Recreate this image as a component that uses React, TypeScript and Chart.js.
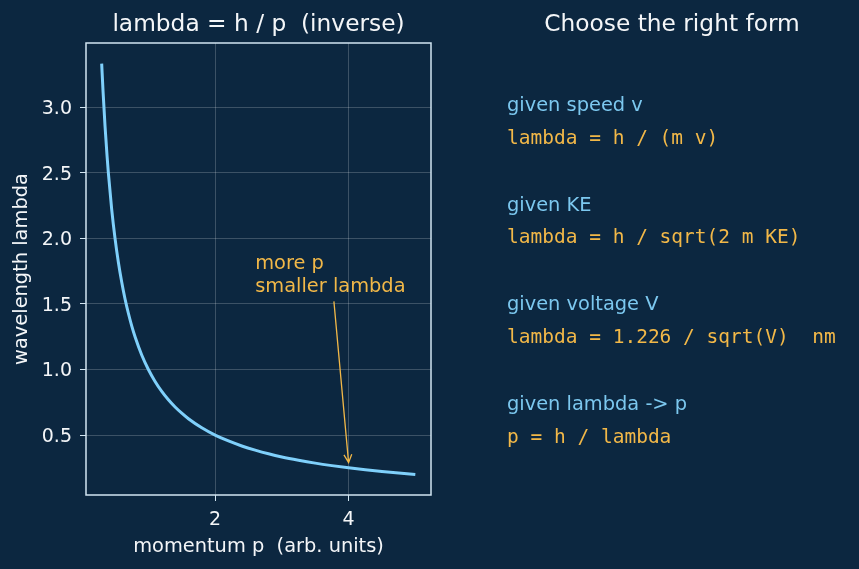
import React, { useEffect, useRef } from 'react';
import { Chart, registerables } from 'chart.js';

Chart.register(...registerables);

// ---- data ----
const momentum = [0.3, 0.32, 0.35, 0.38, 0.4, 0.45, 0.5, 0.55, 0.6, 0.65, 0.7, 0.75, 0.8, 0.9, 1.0, 1.1, 1.2, 1.3, 1.4, 1.5, 1.6, 1.8, 2.0, 2.2, 2.4, 2.6, 2.8, 3.0, 3.25, 3.5, 3.75, 4.0, 4.25, 4.5, 4.75, 5.0];
const wavelength = [3.333, 3.125, 2.857, 2.632, 2.5, 2.222, 2.0, 1.818, 1.667, 1.538, 1.429, 1.333, 1.25, 1.111, 1.0, 0.909, 0.833, 0.769, 0.714, 0.667, 0.625, 0.556, 0.5, 0.455, 0.417, 0.385, 0.357, 0.333, 0.308, 0.286, 0.267, 0.25, 0.235, 0.222, 0.211, 0.2];
const xTicks = [2, 4];
const yTicks = [0.5, 1.0, 1.5, 2.0, 2.5, 3.0];
const leftTitle = 'lambda = h / p  (inverse)';
const xLabel = 'momentum p  (arb. units)';
const yLabel = 'wavelength lambda';
const noteLines = ['more p', 'smaller lambda'];
const noteAnchor = [2.6, 1.59];
const arrowFrom = [3.78, 1.52];
const arrowTo = [4.0, 0.29];
const panelTitle = 'Choose the right form';
const panelHeads = ['given speed v', 'given KE', 'given voltage V', 'given lambda -> p'];
const panelForms = ['lambda = h / (m v)', 'lambda = h / sqrt(2 m KE)', 'lambda = 1.226 / sqrt(V)  nm', 'p = h / lambda'];

const BG = '#0c2740';
const CURVE = '#7fd0fb';
const ORANGE = '#f2b848';
const BLUE = '#7cc8ef';
const SPINE = '#d2e6f2';
const TEXT = '#f4f6f8';
const SANS = '"DejaVu Sans", sans-serif';
const MONO = '"DejaVu Sans Mono", monospace';

const decor = {
  id: 'decor',
  beforeDraw(chart: any) {
    const ctx = chart.ctx;
    ctx.save();
    ctx.fillStyle = BG;
    ctx.fillRect(0, 0, chart.width, chart.height);
    ctx.restore();
  },
  afterDraw(chart: any) {
    const ctx = chart.ctx;
    const a = chart.chartArea;
    const xs = chart.scales.x;
    const ys = chart.scales.y;
    ctx.save();
    // frame
    ctx.strokeStyle = SPINE;
    ctx.lineWidth = 1.5;
    ctx.strokeRect(a.left, a.top, a.right - a.left, a.bottom - a.top);

    // titles
    ctx.fillStyle = TEXT;
    ctx.font = `23.3px ${SANS}`;
    ctx.textAlign = 'center';
    ctx.textBaseline = 'middle';
    ctx.fillText(leftTitle, (a.left + a.right) / 2, 25);
    ctx.fillText(panelTitle, 672, 25);

    // axis labels
    ctx.font = `19.4px ${SANS}`;
    ctx.fillText(xLabel, (a.left + a.right) / 2, 547);
    ctx.save();
    ctx.translate(22, (a.top + a.bottom) / 2);
    ctx.rotate(-Math.PI / 2);
    ctx.fillText(yLabel, 0, 0);
    ctx.restore();

    // annotation
    ctx.fillStyle = ORANGE;
    ctx.textAlign = 'left';
    ctx.textBaseline = 'alphabetic';
    const tx = xs.getPixelForValue(noteAnchor[0]);
    const ty = ys.getPixelForValue(noteAnchor[1]);
    for (let i = 0; i < noteLines.length; i++) {
      ctx.fillText(noteLines[i], tx, ty - (noteLines.length - 1 - i) * 23);
    }
    const x1 = xs.getPixelForValue(arrowFrom[0]);
    const y1 = ys.getPixelForValue(arrowFrom[1]);
    const x2 = xs.getPixelForValue(arrowTo[0]);
    const y2 = ys.getPixelForValue(arrowTo[1]);
    ctx.strokeStyle = ORANGE;
    ctx.lineWidth = 1.3;
    ctx.beginPath();
    ctx.moveTo(x1, y1);
    ctx.lineTo(x2, y2);
    const ang = Math.atan2(y2 - y1, x2 - x1);
    const hl = 9;
    const hw = 0.45;
    ctx.moveTo(x2 - hl * Math.cos(ang - hw), y2 - hl * Math.sin(ang - hw));
    ctx.lineTo(x2, y2);
    ctx.lineTo(x2 - hl * Math.cos(ang + hw), y2 - hl * Math.sin(ang + hw));
    ctx.stroke();

    // right panel
    ctx.textBaseline = 'middle';
    for (let i = 0; i < panelHeads.length; i++) {
      const y0 = 106 + i * 99.7;
      ctx.fillStyle = BLUE;
      ctx.font = `19.4px ${SANS}`;
      ctx.fillText(panelHeads[i], 507, y0);
      ctx.fillStyle = ORANGE;
      ctx.font = `19.5px ${MONO}`;
      ctx.fillText(panelForms[i], 507, y0 + 32.5);
    }
    ctx.restore();
  },
};

export default function App() {
  const ref = useRef<HTMLCanvasElement>(null);
  useEffect(() => {
    document.body.style.margin = '0';
    document.body.style.background = BG;
    const chart = new Chart(ref.current as HTMLCanvasElement, {
      type: 'line',
      data: {
        datasets: [
          {
            data: momentum.map((p, i) => ({ x: p, y: wavelength[i] })),
            borderColor: CURVE,
            borderWidth: 3,
            pointRadius: 0,
            cubicInterpolationMode: 'monotone',
            fill: false,
          },
        ],
      },
      options: {
        animation: false,
        responsive: false,
        devicePixelRatio: 1,
        layout: { padding: { top: 43, right: 428, left: 0, bottom: 0 } },
        plugins: { legend: { display: false }, tooltip: { enabled: false }, title: { display: false } },
        scales: {
          x: {
            type: 'linear',
            min: 0.065,
            max: 5.235,
            afterBuildTicks: (s: any) => {
              s.ticks = xTicks.map((v) => ({ value: v }));
            },
            afterFit: (s: any) => {
              s.height = 74;
            },
            border: { display: false },
            grid: { color: 'rgba(255,255,255,0.2)', lineWidth: 1, tickColor: SPINE, tickLength: 6, drawTicks: true },
            ticks: { color: TEXT, font: { family: SANS, size: 19 }, padding: 8, maxRotation: 0, callback: (v: any) => String(v) },
          },
          y: {
            type: 'linear',
            min: 0.043,
            max: 3.49,
            afterBuildTicks: (s: any) => {
              s.ticks = yTicks.map((v) => ({ value: v }));
            },
            afterFit: (s: any) => {
              s.width = 86;
            },
            border: { display: false },
            grid: { color: 'rgba(255,255,255,0.2)', lineWidth: 1, tickColor: SPINE, tickLength: 6, drawTicks: true },
            ticks: { color: TEXT, font: { family: SANS, size: 19 }, padding: 8, labelOffset: 2, callback: (v: any) => Number(v).toFixed(1) },
          },
        },
      },
      plugins: [decor],
    } as any);
    return () => chart.destroy();
  }, []);
  return (
    <div style={{ position: 'absolute', left: 0, top: 0, width: 859, height: 569, background: BG }}>
      <canvas ref={ref} width={859} height={569} style={{ width: 859, height: 569, display: 'block' }} />
    </div>
  );
}
